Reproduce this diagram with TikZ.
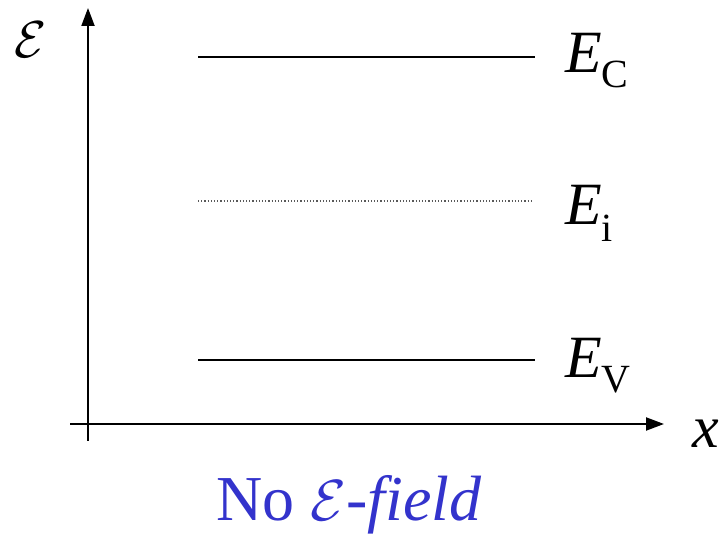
\documentclass[tikz,border=0pt]{standalone}
\usepackage{fontspec}
\setmainfont{Liberation Serif}
\usepackage{tikz}
\usetikzlibrary{arrows.meta, positioning}

\definecolor{fieldblue}{RGB}{51,51,204}
\newcommand{\bandlabel}[2]{{\itshape E}\raisebox{-#2pt}{\fontsize{40}{40}\selectfont #1}}
\newcommand{\scrE}[1]{\scalebox{#1}{\normalsize$\mathcal{E}$}}

\begin{document}
\begin{tikzpicture}[
  x=1pt, y=-1pt,
  axis/.style ={line width=2pt, -{Triangle[length=18pt, width=13pt]}},
  level/.style={line width=1.6pt},
  midlvl/.style={line width=1.2pt, gray!70!black, dotted},
  lbl/.style  ={anchor=base west, inner sep=0pt, font=\fontsize{60}{60}\selectfont},
]
\useasboundingbox (0,0) rectangle (723,534);

% --- axes ---
\coordinate (yfoot) at (88,441);
\coordinate (ytip)  at (88,8);
\coordinate (xfoot) at (70,424);
\coordinate (xtip)  at (664,424);
\draw[axis] (yfoot) -- (ytip);
\draw[axis] (xfoot) -- (xtip);
\node[lbl] (elab) at (14,58) {\scrE{5.2}};
\node[lbl] (xlab) at (692,447) {\itshape x};

% --- band levels ---
\coordinate (ecl) at (198,57);  \coordinate (ecr) at (535,57);
\coordinate (eil) at (198,201); \coordinate (eir) at (532,201);
\coordinate (evl) at (198,360); \coordinate (evr) at (535,360);
\draw[level]  (ecl) -- (ecr);
\draw[midlvl] (eil) -- (eir);
\draw[level]  (evl) -- (evr);
\node[lbl] (eclab) at (565,73)  {\bandlabel{C}{15}};
\node[lbl] (eilab) at (565,225) {\bandlabel{i}{17}};
\node[lbl] (evlab) at (565,378) {\bandlabel{V}{15}};

% --- caption ---
\node[anchor=base, inner sep=0pt, text=fieldblue, font=\fontsize{64}{64}\selectfont]
  (cap) at (349,520) {No {\itshape\scrE{5.8}-field}};

\end{tikzpicture}
\end{document}
